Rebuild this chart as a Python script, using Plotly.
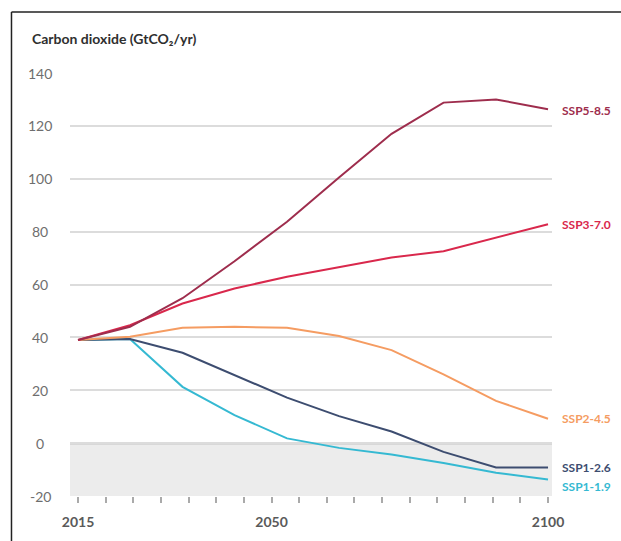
import plotly.graph_objects as go

# ---- data ----
x_years = [2015, 2024.4, 2033.9, 2043.3, 2052.8, 2062.2, 2071.7, 2081.1, 2090.6, 2100]
ssp585 = [39.0, 44.0, 54.8, 68.8, 83.7, 100.5, 117.0, 128.8, 130.0, 126.3]
ssp370 = [39.0, 44.6, 52.8, 58.5, 62.9, 66.6, 70.2, 72.6, 77.8, 82.8]
ssp245 = [39.0, 40.2, 43.6, 44.0, 43.6, 40.5, 35.2, 26.0, 16.0, 9.2]
ssp126 = [39.0, 39.4, 34.2, 25.7, 17.2, 10.2, 4.4, -3.3, -9.2, -9.2]
ssp119 = [39.0, 39.4, 21.3, 10.6, 1.8, -1.8, -4.3, -7.5, -11.2, -13.8]

series_names = ["SSP1-1.9", "SSP1-2.6", "SSP2-4.5", "SSP3-7.0", "SSP5-8.5"]
series_vals = [ssp119, ssp126, ssp245, ssp370, ssp585]
series_colors = ["#35b9d2", "#3d4d70", "#f59c62", "#d9284c", "#9e2d4d"]
label_shift = [-7, 0, 0, 0, -1]

y_ticks = [-20, 0, 20, 40, 60, 80, 100, 120, 140]
x_ticks = [2015, 2050, 2100]
title_text = "Carbon dioxide (GtCO₂/yr)"

FONT = "Lato"

fig = go.Figure()

# shaded negative-emissions band
fig.add_shape(type="rect", xref="paper", yref="y", x0=0, x1=1, y0=-20, y1=0,
              fillcolor="#ececec", line_width=0, layer="below")

for name, vals, col in zip(series_names, series_vals, series_colors):
    fig.add_trace(go.Scatter(x=x_years, y=vals, mode="lines", name=name,
                             line=dict(color=col, width=2), showlegend=False,
                             hoverinfo="skip"))

# end labels
annotations = []
for name, vals, col, sh in zip(series_names, series_vals, series_colors, label_shift):
    annotations.append(dict(x=1.0166, xref="paper", y=vals[-1], yref="y",
                            text=name, showarrow=False, xanchor="left",
                            yanchor="middle", yshift=sh,
                            font=dict(family=FONT, size=12, color=col, weight="bold")))

# y tick labels (centered, as in the reference)
for v in y_ticks:
    annotations.append(dict(x=-0.0622, xref="paper", y=v, yref="y", text=str(v),
                            showarrow=False, xanchor="center", yanchor="middle",
                            font=dict(family=FONT, size=14, color="#6e6e6e")))

# title
annotations.append(dict(x=-0.083, xref="paper", y=1.0827, yref="paper",
                        text=title_text, showarrow=False, xanchor="left",
                        yanchor="middle",
                        font=dict(family=FONT, size=14, color="#2f2f2f", weight="bold")))

# zero line
fig.add_shape(type="line", xref="paper", yref="y", x0=0, x1=1, y0=0, y1=0,
              line=dict(color="#9a9a9a", width=2), layer="below")

# frame (left & top border lines)
fig.add_shape(type="line", xref="paper", yref="paper", x0=-0.1214, x1=-0.1214,
              y0=-0.3, y1=1.1442, line=dict(color="#222222", width=1.5))
fig.add_shape(type="line", xref="paper", yref="paper", x0=-0.1214, x1=1.3,
              y0=1.1442, y1=1.1442, line=dict(color="#222222", width=1.5))

fig.update_layout(
    width=621, height=541,
    margin=dict(l=70, r=69, t=73, b=45, autoexpand=False),
    paper_bgcolor="white", plot_bgcolor="white",
    annotations=annotations,
    font=dict(family=FONT),
    xaxis=dict(range=[2013.55, 2100.72], tickvals=x_ticks,
               ticktext=[str(t) for t in x_ticks],
               ticks="outside", ticklen=6, tickwidth=1.5, tickcolor="#aaaaaa",
               minor=dict(tick0=2015, dtick=5, ticks="outside", ticklen=6,
                          tickwidth=1.5, tickcolor="#aaaaaa", showgrid=False),
               showgrid=False, zeroline=False, showline=False,
               tickfont=dict(family=FONT, size=14, color="#5a5a5a", weight="bold"),
               ticklabelstandoff=7, fixedrange=True),
    yaxis=dict(range=[-20, 140], tickvals=y_ticks, showticklabels=False,
               showgrid=True, gridcolor="#dcdcdc", gridwidth=1.5,
               zeroline=False, showline=False, ticks="", fixedrange=True),
)

fig.write_html("out.html")
